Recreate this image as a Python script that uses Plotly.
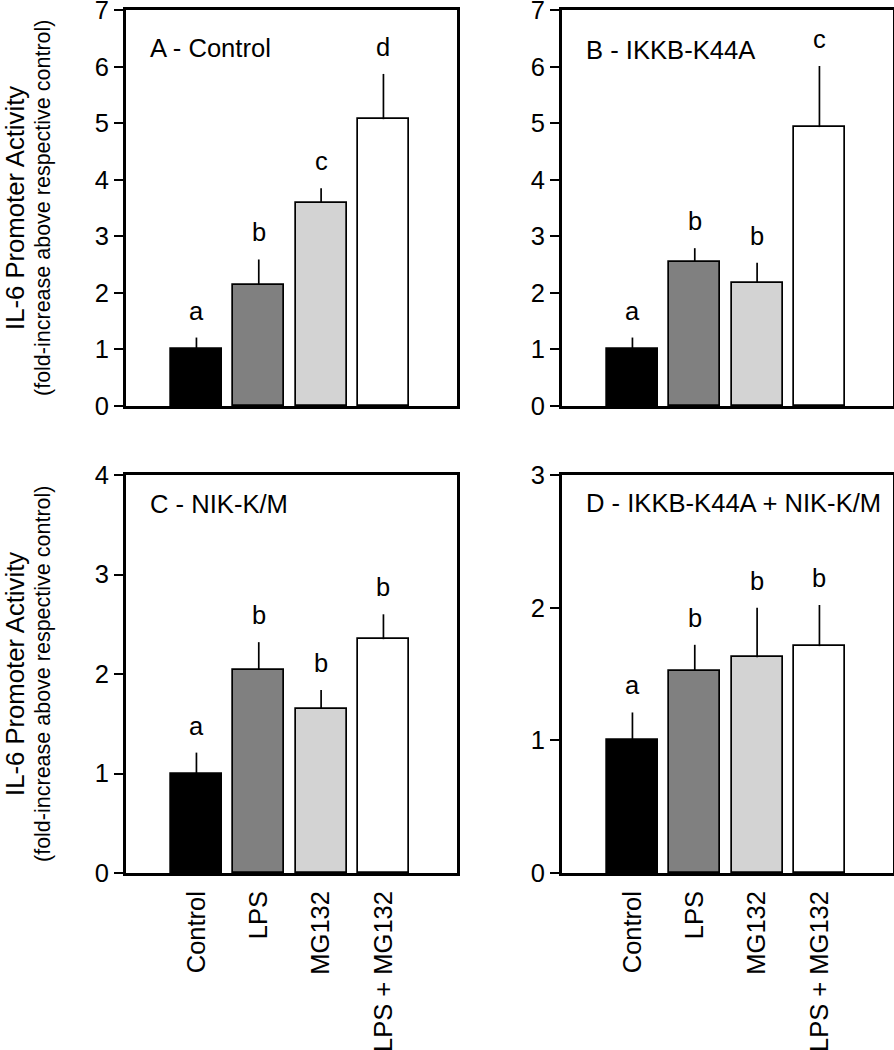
import plotly.graph_objects as go

groups = ['Control', 'LPS', 'MG132', 'LPS + MG132']

panel_titles = ['A - Control', 'B - IKKB-K44A', 'C - NIK-K/M', 'D - IKKB-K44A + NIK-K/M']

a_mean = [1.0, 2.14, 3.59, 5.07]
a_sem = [0.21, 0.45, 0.26, 0.80]
a_letters = ['a', 'b', 'c', 'd']

b_mean = [1.0, 2.55, 2.18, 4.93]
b_sem = [0.21, 0.24, 0.35, 1.08]
b_letters = ['a', 'b', 'b', 'c']

c_mean = [1.0, 2.04, 1.65, 2.35]
c_sem = [0.21, 0.28, 0.19, 0.25]
c_letters = ['a', 'b', 'b', 'b']

d_mean = [1.0, 1.525, 1.626, 1.71]
d_sem = [0.21, 0.195, 0.374, 0.31]
d_letters = ['a', 'b', 'b', 'b']

y_max = [7, 7, 4, 3]

bar_colors = ['black', '#808080', '#d3d3d3', 'white']
FONT = 'Liberation Sans, Arial, sans-serif'

W, H = 894, 1050
# plot areas in pixels (left, right, top, bottom)
boxes = [
    (126, 457, 10, 406),
    (562, 893, 10, 406),
    (126, 457, 475, 873),
    (562, 893, 475, 873),
]
title_drop = [38, 40, 29, 28]

panels = [
    (a_mean, a_sem, a_letters),
    (b_mean, b_sem, b_letters),
    (c_mean, c_sem, c_letters),
    (d_mean, d_sem, d_letters),
]

x_pos = list(range(len(groups)))

fig = go.Figure()
layout = {}
annotations = []

for i, (means, sems, letters) in enumerate(panels):
    n = i + 1
    xa = 'x' if n == 1 else f'x{n}'
    ya = 'y' if n == 1 else f'y{n}'
    fig.add_trace(go.Bar(
        x=x_pos,
        y=means,
        width=0.82,
        marker=dict(color=bar_colors, line=dict(color='black', width=1.7)),
        error_y=dict(type='data', array=sems, arrayminus=[0] * len(sems), symmetric=False,
                     color='black', thickness=1.7, width=0),
        xaxis=xa,
        yaxis=ya,
        showlegend=False,
    ))

    left, right, top, bottom = boxes[i]
    layout[f'xaxis{n}' if n > 1 else 'xaxis'] = dict(
        domain=[left / W, right / W],
        range=[-1.13, 4.18],
        anchor=ya,
        automargin=False,
        showline=True, mirror=True, linecolor='black', linewidth=2.7,
        showgrid=False, zeroline=False,
        ticks='',
        tickvals=x_pos,
        ticktext=groups,
        tickangle=-90,
        showticklabels=(i >= 2),
        ticklabelstandoff=5,
        ticklabeloverflow='allow',
        tickfont=dict(family=FONT, size=25.5, color='black'),
    )
    layout[f'yaxis{n}' if n > 1 else 'yaxis'] = dict(
        domain=[1 - bottom / H, 1 - top / H],
        range=[0, y_max[i]],
        anchor=xa,
        automargin=False,
        showline=True, mirror=True, linecolor='black', linewidth=2.7,
        showgrid=False, zeroline=False,
        ticks='outside', ticklen=9, tickwidth=2, tickcolor='black',
        dtick=1,
        ticklabeloverflow='allow',
        tickfont=dict(family=FONT, size=25.5, color='black'),
    )

    # significance letters above the error bars
    for k in x_pos:
        annotations.append(dict(
            x=k, y=means[k] + sems[k], xref=xa, yref=ya,
            text=letters[k], showarrow=False,
            xanchor='center', yanchor='bottom', yshift=11,
            font=dict(family=FONT, size=25.5, color='black'),
        ))

    annotations.append(dict(
        x=0, y=1, xref=f'{xa} domain', yref=f'{ya} domain',
        xanchor='left', yanchor='middle', xshift=22, yshift=-title_drop[i],
        text=panel_titles[i], showarrow=False,
        font=dict(family=FONT, size=25.6, color='black'),
    ))

# y axis titles for each row
for top, bottom in [(10, 406), (475, 873)]:
    yc = 1 - (top + bottom) / 2 / H
    annotations.append(dict(
        x=15 / W, y=yc, xref='paper', yref='paper', textangle=-90,
        xanchor='center', yanchor='middle',
        text='IL-6 Promoter Activity', showarrow=False,
        font=dict(family=FONT, size=25.7, color='black'),
    ))
    annotations.append(dict(
        x=43 / W, y=yc, xref='paper', yref='paper', textangle=-90,
        xanchor='center', yanchor='middle',
        text='(fold-increase above respective control)', showarrow=False,
        font=dict(family=FONT, size=21.5, color='black'),
    ))

fig.update_layout(
    **layout,
    annotations=annotations,
    width=W,
    height=H,
    margin=dict(l=0, r=0, t=0, b=0),
    paper_bgcolor='white',
    plot_bgcolor='white',
    bargap=0,
)

# drop the default page margin so the figure sits at the window's corner
fig.write_html('out.html', config={'displayModeBar': False},
               post_script="document.body.style.margin='0';")
